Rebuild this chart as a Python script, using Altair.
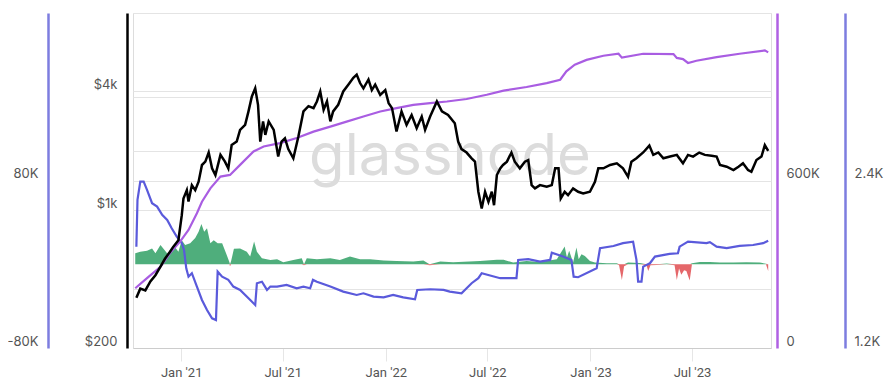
import altair as alt
import pandas as pd

# ---------------- data ----------------
BASE = "2021-01-01"   # day offsets below are days since this date

# ETH price (USD, log axis)
price_day = [-80, -73, -64, -55, -46, -37, -29, -20, -14, -5,
             1, 4, 10, 13, 19, 25, 31, 37, 43, 49,
             55, 61, 70, 78, 84, 90, 99, 105, 114, 120,
             126, 132, 137, 141, 146, 150, 156, 165, 173, 179,
             185, 191, 200, 209, 218, 227, 236, 242, 248, 254,
             260, 266, 271, 280, 289, 298, 307, 313, 319, 325,
             334, 340, 346, 355, 364, 370, 376, 384, 393, 402,
             411, 420, 429, 435, 444, 456, 465, 476, 488, 494,
             500, 509, 518, 524, 530, 536, 542, 548, 554, 558,
             563, 569, 574, 581, 589, 595, 604, 613, 619, 625,
             631, 640, 652, 661, 667, 673, 677, 684, 690, 699,
             708, 717, 729, 738, 744, 753, 765, 777, 788, 797,
             803, 812, 824, 835, 842, 851, 860, 872, 884, 895,
             904, 913, 924, 934, 946, 955, 961, 973, 985, 994,
             1002, 1011, 1017, 1026, 1035, 1041, 1047]
price_usd = [360, 400, 392, 435, 468, 518, 567, 616, 653, 704,
             943, 1147, 1264, 1107, 1340, 1264, 1394, 1695, 1762, 1962,
             1630, 1507, 1907, 1762, 1630, 2140, 2228, 2555, 2707, 3170,
             3772, 4150, 3424, 2228, 2820, 2410, 2820, 2555, 1870, 2228,
             2317, 2040, 1833, 2365, 3170, 3370, 3293, 3560, 4000, 3230,
             3560, 2820, 3170, 3424, 4000, 4330, 4690, 4870, 4413, 4150,
             4600, 4065, 4330, 3840, 4065, 3490, 3293, 2507, 3170, 2707,
             3040, 2605, 2985, 2555, 2985, 3560, 3170, 3040, 2760, 2228,
             2040, 1960, 1833, 1762, 1240, 1020, 1240, 1103, 1240, 1060,
             1507, 1630, 1695, 1762, 1960, 1762, 1630, 1762, 1795, 1340,
             1290, 1340, 1315, 1340, 1630, 1630, 1147, 1240, 1192, 1290,
             1240, 1215, 1240, 1394, 1630, 1630, 1695, 1728, 1630, 1477,
             1762, 1833, 1962, 2125, 1907, 1962, 1833, 1870, 1907, 1728,
             1907, 1870, 1960, 1907, 1890, 1870, 1695, 1662, 1598, 1662,
             1728, 1598, 1567, 1795, 1870, 2140, 2000]

# purple series (right axis, 0 .. 600K)
purple_day = [-82, -61, -37, -20, -2, 13, 28, 37, 52, 70,
              87, 105, 129, 147, 176, 206, 236, 266, 295, 325,
              355, 384, 414, 444, 474, 509, 545, 575, 616, 652,
              676, 687, 702, 723, 753, 780, 786, 824, 878, 884,
              895, 904, 919, 955, 996, 1041, 1047]
purple_val = [214000, 250000, 291000, 340000, 381000, 423000, 483000, 524000, 572000, 614000,
              620000, 656000, 704000, 722000, 734000, 752000, 775000, 793000, 811000, 829000,
              847000, 859000, 871000, 877000, 883000, 892000, 907000, 922000, 935000, 949000,
              961000, 991000, 1015000, 1032000, 1047000, 1054000, 1040000, 1054000, 1053000, 1039000,
              1035000, 1021000, 1029000, 1042000, 1054000, 1066000, 1059000]

# blue series (outer right axis, 1.2K .. 2.4K)
blue_day = [-80, -78, -73, -67, -61, -52, -43, -34, -25, -17,
            -8, 1, 5, 9, 13, 19, 28, 37, 46, 55,
            62, 65, 73, 84, 93, 105, 120, 132, 135, 144,
            153, 159, 171, 188, 206, 218, 230, 235, 242, 266,
            289, 313, 325, 343, 361, 378, 396, 417, 421, 444,
            468, 479, 500, 518, 530, 536, 569, 598, 601, 619,
            640, 658, 661, 681, 696, 700, 708, 741, 747, 771,
            788, 806, 812, 815, 821, 824, 836, 845, 871, 886,
            889, 904, 937, 943, 955, 973, 996, 1020, 1038, 1047]
blue_val = [1926, 2261, 2392, 2392, 2333, 2237, 2213, 2154, 2118, 2058,
            1998, 1951, 1903, 1771, 1711, 1736, 1640, 1544, 1472, 1413,
            1400, 1747, 1711, 1688, 1640, 1616, 1556, 1508, 1664, 1675,
            1616, 1640, 1640, 1652, 1628, 1640, 1628, 1688, 1675, 1640,
            1604, 1580, 1592, 1568, 1563, 1580, 1563, 1549, 1616, 1621,
            1616, 1604, 1592, 1664, 1700, 1736, 1700, 1700, 1831, 1836,
            1819, 1831, 1883, 1855, 1831, 1711, 1707, 1771, 1915, 1931,
            1951, 1962, 1831, 1675, 1675, 1783, 1807, 1855, 1874, 1879,
            1926, 1962, 1951, 1958, 1926, 1915, 1931, 1938, 1951, 1969]

# net flow (outer left axis, -80K .. 80K): green above zero, red below
flow_day = [-82, -73, -61, -52, -46, -37, -32, -23, -14, -5,
            1, 7, 16, 25, 31, 36, 41, 46, 52, 58,
            65, 73, 81, 86, 87, 89, 94, 105, 117, 123,
            130, 135, 144, 159, 171, 182, 200, 215, 219, 224,
            242, 266, 283, 301, 319, 337, 361, 384, 414, 432,
            443, 462, 485, 533, 563, 575, 592, 616, 640, 670,
            684, 688, 692, 699, 705, 709, 714, 720, 729, 738,
            759, 777, 781, 786, 790, 797, 818, 830, 833, 837,
            848, 866, 880, 884, 888, 892, 897, 901, 907, 911,
            925, 943, 961, 985, 1008, 1032, 1043, 1047]
flow_val = [10500, 12000, 13000, 15000, 10500, 18500, 15000, 9000, 18500, 12000,
            23000, 18500, 20000, 25000, 31000, 38500, 31000, 34500, 20000, 23000,
            20000, 20000, 9000, 2000, -2000, 3000, 14700, 15000, 12000, 7300,
            21700, 12000, 5700, 4000, 4800, 1900, 4000, 5700, -1000, 5700,
            4800, 5700, 4000, 7300, 4800, 4800, 3500, 3200, 2600, 3500,
            -1000, 2600, 1900, 3200, 4200, 4200, 1600, 3200, 2200, 4800,
            17000, 6400, 13000, 1600, 16000, 4800, 9600, 8000, 3200, 1600,
            1000, 1000, -1000, -15000, -1900, 1600, 1300, -1000, -6500, -1000,
            -600, 600, -1000, -15000, -4000, -10000, -5700, -6400, -15500, 1000,
            2200, 2200, 1600, 1600, 1900, 1600, 500, -6400]

# axis tick values / labels
price_ticks = [200, 400, 1000, 2000, 4000, 10000]
flow_ticks = [-80000, 80000, 160000]
purple_ticks = [0, 600000]
blue_ticks = [1200, 2400]

# ---------------- frames ----------------
base = pd.Timestamp(BASE)


def to_dates(days):
    return base + pd.to_timedelta(days, unit="D")


price_df = pd.DataFrame({"date": to_dates(price_day), "price": price_usd})
purple_df = pd.DataFrame({"date": to_dates(purple_day), "value": purple_val})
blue_df = pd.DataFrame({"date": to_dates(blue_day), "value": blue_val})
flow_rows = []
for d, v in zip(flow_day, flow_val):
    dt = base + pd.Timedelta(days=d)
    flow_rows.append({"date": dt, "dir": "in", "value": max(v, 0)})
    flow_rows.append({"date": dt, "dir": "out", "value": min(v, 0)})
flow_df = pd.DataFrame(flow_rows)

# ---------------- styling ----------------
GREEN = "#4fae7c"
RED = "#e5676a"
BLUE = "#5a5adb"
BLUE_AXIS = "#7d7ddf"
PURPLE = "#a95de2"
PURPLE_AXIS = "#b061e3"
GRID = "#e4e4e4"
LABEL = "#555555"
FONT = "Inter"

x_scale = alt.Scale(domain=[alt.DateTime(year=2020, month=10, date=7),
                            alt.DateTime(year=2023, month=11, date=19)])
x_axis = alt.Axis(
    values=[alt.DateTime(year=y, month=m, date=1)
            for y, m in [(2021, 1), (2021, 7), (2022, 1), (2022, 7), (2023, 1), (2023, 7)]],
    format="%b '%y", formatType="time", title=None, grid=False,
    domainColor="#cccccc", domainWidth=1, tickColor="#e6e6e6", tickSize=13,
    labelPadding=5, labelFont="Roboto", labelFontSize=13, labelColor=LABEL,
    labelFlush=False,
)
X = alt.X("date:T", scale=x_scale, axis=x_axis)


def yaxis(orient, offset, values, expr, color, grid, pad=10):
    return alt.Axis(orient=orient, offset=offset, values=values, labelExpr=expr,
                    grid=grid, gridColor=GRID, gridWidth=1,
                    domainColor=color, domainWidth=2.5, ticks=False, tickSize=0,
                    labelPadding=pad, labelBaseline="bottom", labelFont=FONT,
                    labelFontSize=13, labelColor=LABEL, title=None, labelFlush=False)


watermark = alt.Chart(pd.DataFrame({"t": ["glassnode"]})).mark_text(
    font=FONT, fontSize=58, color="#dcdcdc", align="center", baseline="alphabetic"
).encode(x=alt.value(317), y=alt.value(162), text="t:N")

flow = alt.Chart(flow_df).mark_area(opacity=1, interpolate="linear").encode(
    x=X,
    y=alt.Y("value:Q", stack=None,
            scale=alt.Scale(domain=[-80000, 240000], nice=False, zero=False),
            axis=yaxis("left", 85, flow_ticks,
                       "datum.value == -80000 ? '-80K' : datum.value == 80000 ? '80K' : ''",
                       BLUE_AXIS, True)),
    color=alt.Color("dir:N", scale=alt.Scale(domain=["in", "out"], range=[GREEN, RED]), legend=None),
)

blue = alt.Chart(blue_df).mark_line(color=BLUE, strokeWidth=2.2).encode(
    x=X,
    y=alt.Y("value:Q", scale=alt.Scale(domain=[1200, 3600], nice=False, zero=False),
            axis=yaxis("right", 74, blue_ticks,
                       "datum.value == 1200 ? '1.2K' : '2.4K'", BLUE_AXIS, False, pad=9)),
)

purple = alt.Chart(purple_df).mark_line(color=PURPLE, strokeWidth=2.2).encode(
    x=X,
    y=alt.Y("value:Q", scale=alt.Scale(domain=[0, 1200000], nice=False, zero=False),
            axis=yaxis("right", 6, purple_ticks,
                       "datum.value == 0 ? '0' : '600K'", PURPLE_AXIS, False, pad=9)),
)

price = alt.Chart(price_df).mark_line(color="#000000", strokeWidth=2.5).encode(
    x=X,
    y=alt.Y("price:Q", scale=alt.Scale(type="log", domain=[200, 10000], nice=False),
            axis=yaxis("left", 6, price_ticks,
                       "datum.value == 200 ? '$200' : datum.value == 1000 ? '$1k' : datum.value == 4000 ? '$4k' : ''",
                       "#000000", True)),
)

chart = alt.layer(watermark, flow, blue, purple, price).resolve_scale(
    y="independent"
).properties(
    width=638, height=335,
    autosize=alt.AutoSizeParams(type="none"),
    padding={"left": 125, "top": 5, "right": 116, "bottom": 31},
).configure_view(stroke=None).configure(background="#ffffff")

chart.save("out.html", embed_options={"renderer": "svg", "actions": False})
